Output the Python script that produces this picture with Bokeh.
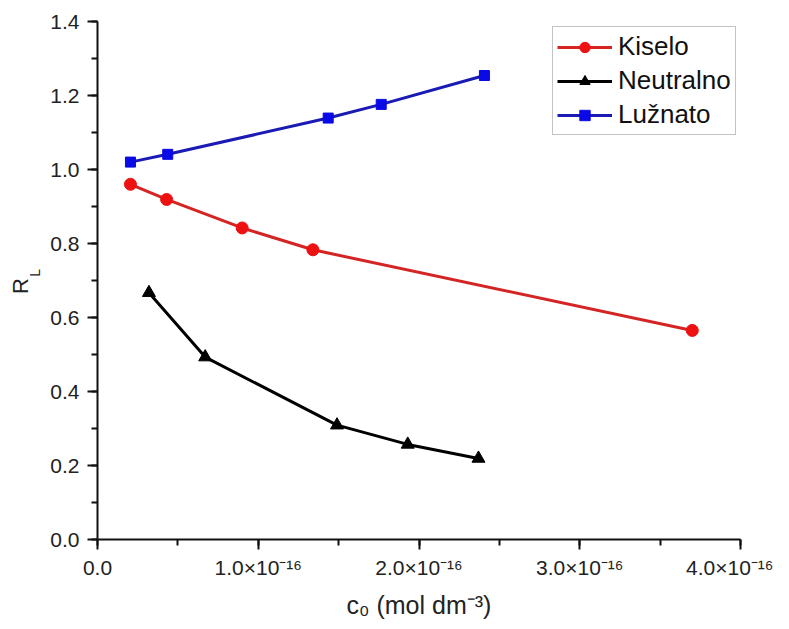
from bokeh.plotting import figure
from bokeh.models import (SingleIntervalTicker, PrintfTickFormatter, CustomJSTickFormatter,
                          Legend, LegendItem, Range1d, LinearAxis, FixedTicker)
from bokeh.embed import file_html
from bokeh.resources import INLINE

# ---- data ----
kiselo_x = [0.205e-16, 0.43e-16, 0.90e-16, 1.34e-16, 3.70e-16]
kiselo_y = [0.960, 0.919, 0.842, 0.783, 0.565]

neutralno_x = [0.32e-16, 0.67e-16, 1.49e-16, 1.93e-16, 2.37e-16]
neutralno_y = [0.667, 0.493, 0.309, 0.257, 0.219]

luznato_x = [0.205e-16, 0.437e-16, 1.435e-16, 1.765e-16, 2.407e-16]
luznato_y = [1.020, 1.041, 1.139, 1.176, 1.254]

series_names = ["Kiselo", "Neutralno", "Lužnato"]
x_label = "c₀ (mol dm⁻³)"
y_label_main = "R"
y_label_sub = "L"

FONT = "Liberation Sans"
NBSP = "\u00a0"
ENSP = "\u2002"

p = figure(frame_width=643, frame_height=518, output_backend="svg", toolbar_location=None,
           x_range=Range1d(0, 4.0e-16), y_range=Range1d(0, 1.4000001),
           min_border_left=97, min_border_right=33, min_border_top=21, min_border_bottom=74)
p.outline_line_color = None
p.grid.visible = False
p.background_fill_color = "white"
p.border_fill_color = "white"

red_line = "#d42424"
red_mark = "#ee1111"
blue_line = "#1a1ab4"
blue_mark = "#0a0ae6"

r1l = p.line(kiselo_x, kiselo_y, line_color=red_line, line_width=3)
r1m = p.scatter(kiselo_x, kiselo_y, marker="circle", size=12, fill_color=red_mark, line_color=red_mark)
r2l = p.line(neutralno_x, neutralno_y, line_color="black", line_width=3)
r2m = p.scatter(neutralno_x, neutralno_y, marker="triangle", size=13, fill_color="black", line_color="black")
r3l = p.line(luznato_x, luznato_y, line_color=blue_line, line_width=3)
r3m = p.scatter(luznato_x, luznato_y, marker="square", size=10, fill_color=blue_mark, line_color=blue_mark)

# axes
for ax in (p.xaxis[0], p.yaxis[0]):
    ax.axis_line_width = 2
    ax.axis_line_color = "#111111"
    ax.major_tick_line_width = 2
    ax.minor_tick_line_width = 2
    ax.major_tick_line_color = "#111111"
    ax.minor_tick_line_color = "#111111"
    ax.major_tick_out = 10
    ax.major_tick_in = 0
    ax.minor_tick_out = 6
    ax.minor_tick_in = 0
    ax.major_label_text_font = FONT
    ax.major_label_text_font_size = "21px"
    ax.major_label_text_color = "#222222"

p.xaxis.ticker = SingleIntervalTicker(interval=1e-16, num_minor_ticks=2)
p.yaxis.ticker = SingleIntervalTicker(interval=0.2, num_minor_ticks=2)
p.yaxis.formatter = PrintfTickFormatter(format="%.1f")
p.xaxis.formatter = CustomJSTickFormatter(code="""
if (Math.abs(tick) < 1e-20) { return "0.0"; }
const m = tick / 1e-16;
return m.toFixed(1) + "×10⁻¹⁶";
""")
p.xaxis.major_label_standoff = 6
p.yaxis.major_label_standoff = 8

p.xaxis.axis_label = x_label
p.xaxis.axis_label_text_font = FONT
p.xaxis.axis_label_text_font_size = "25px"
p.xaxis.axis_label_text_font_style = "normal"
p.xaxis.axis_label_text_color = "#222222"
p.xaxis.axis_label_standoff = 9

# y label "R" with subscript "L", built from two tick-less axes
def label_axis(text, size, standoff):
    ax = LinearAxis(ticker=FixedTicker(ticks=[]), axis_label=text)
    ax.axis_line_color = None
    ax.major_tick_line_color = None
    ax.minor_tick_line_color = None
    ax.axis_label_text_font = FONT
    ax.axis_label_text_font_size = size
    ax.axis_label_text_font_style = "normal"
    ax.axis_label_text_color = "#222222"
    ax.axis_label_standoff = standoff
    return ax

p.add_layout(label_axis(NBSP * 4 + y_label_sub, "14px", 5), "left")
p.add_layout(label_axis(y_label_main + ENSP, "22px", -9), "left")

legend = Legend(items=[LegendItem(label=series_names[0], renderers=[r1l, r1m]),
                       LegendItem(label=series_names[1], renderers=[r2l, r2m]),
                       LegendItem(label=series_names[2], renderers=[r3l, r3m])],
                location=(455, 404))
legend.label_text_font = FONT
legend.label_text_font_size = "26px"
legend.label_text_color = "#111111"
legend.glyph_width = 55
legend.glyph_height = 26
legend.label_height = 26
legend.label_standoff = 6
legend.spacing = 3
legend.padding = 4
legend.margin = 0
legend.border_line_color = "#888888"
legend.border_line_width = 1.5
legend.background_fill_alpha = 1
p.add_layout(legend)

open("out.html", "w").write(file_html(p, INLINE))
